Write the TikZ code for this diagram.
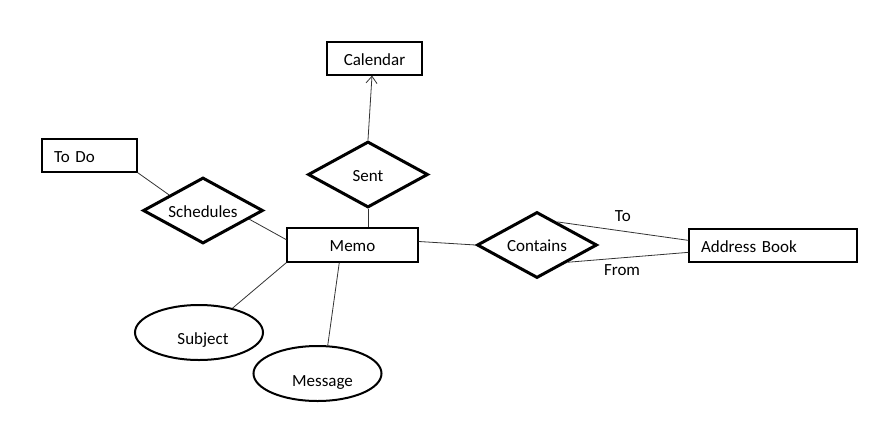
\documentclass[tikz,border=0pt]{standalone}
\usepackage{fontspec}
\setmainfont{Carlito}
\usetikzlibrary{shapes.geometric,arrows.meta,calc}
\begin{document}
\begin{tikzpicture}[x=1pt,y=-1pt,
  every node/.style={font=\fontsize{17}{20}\selectfont},
  ent/.style={draw,line width=1.2pt,inner sep=0pt,text height=15pt,text depth=2pt},
  rel/.style={draw,diamond,line width=3pt,minimum width=120pt,minimum height=66pt,inner sep=0pt,aspect=1.8,text height=15pt,text depth=2pt},
  attr/.style={draw,ellipse,line width=2pt,minimum width=128pt,minimum height=55pt,inner sep=0pt},
  conn/.style={draw=black!80,line width=0.8pt},
  lbl/.style={inner sep=0pt}]
\useasboundingbox (0,0) rectangle (878,437);
% entities
\node[ent,minimum width=95pt,minimum height=33pt] (cal) at (374.5,58.5) {Calendar};
\node[ent,minimum width=131pt,minimum height=34pt] (memo) at (352.5,245) {Memo};
\node[ent,minimum width=95pt,minimum height=33pt,inner xsep=12pt,text width=71pt,align=left] (todo) at (89.5,155.5) {To Do};
\node[ent,minimum width=168pt,minimum height=33pt,inner xsep=12pt,text width=144pt,align=left] (ab) at (773,245.5) {Address Book};
% relationships
\node[rel] (sent) at (368,174.5) {Sent};
\node[rel] (sch) at (203,210.5) {Schedules};
\node[rel] (cont) at (537,245) {Contains};
% attributes
\node[attr,label={[lbl,shift={(4,8)}]center:Subject}] (subj) at (199,332.5) {};
\node[attr,label={[lbl,shift={(5,9)}]center:Message}] (msg) at (317.5,373.5) {};
% connectors
\draw[conn,-{Straight Barb[length=7pt,width=11pt]}] (sent.north) -- ($(cal.south)+(-2.5,0)$);
\draw[conn] (sent.south) -- (sent.south |- memo.north);
\draw[conn] (todo.south east) -- ($(sch.north)!0.55!(sch.west)$);
\draw[conn] ($(sch.east)!0.25!(sch.south)$) -- ($(memo.north west)!0.35!(memo.south west)$);
\draw[conn] ($(memo.north east)!0.4!(memo.south east)$) -- (cont.west);
\draw[conn] ($(cont.north)!0.33!(cont.east)$) -- ($(ab.north west)!0.35!(ab.south west)$)
  node[lbl,pos=0.5,above=9pt] (to) {To};
\draw[conn] ($(cont.south)!0.5!(cont.east)$) -- ($(ab.north west)!0.7!(ab.south west)$)
  node[lbl,pos=0.45,below=6pt] (from) {From};
\draw[conn] (memo.south west) -- (subj.36);
\draw[conn] ($(memo.south west)!0.4!(memo.south east)$) -- (msg.70);
\end{tikzpicture}
\end{document}
